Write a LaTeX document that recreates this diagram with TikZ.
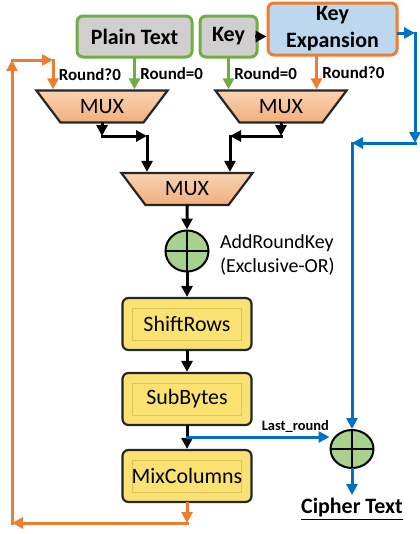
\documentclass[tikz,border=0pt]{standalone}
\usepackage{fontspec}
\setmainfont{Carlito}
\usetikzlibrary{arrows.meta,shapes.geometric,positioning}

\definecolor{keyorange}{HTML}{ED7D31}
\definecolor{keygreen}{HTML}{70AD47}
\definecolor{keyblue}{HTML}{0070C0}
\definecolor{boxgray}{HTML}{D0CECE}
\definecolor{boxblue}{HTML}{BDD7EE}
\definecolor{muxtop}{HTML}{F9D3B2}
\definecolor{muxbot}{HTML}{F2AE7C}
\definecolor{stageyellow}{HTML}{FAE272}
\definecolor{stageline}{HTML}{E0C35A}
\definecolor{xorgreen}{HTML}{A9D18E}

\tikzset{
  inbox/.style={draw=keygreen, line width=3bp, rounded corners=6bp, fill=boxgray,
    inner sep=0pt, font=\fontsize{22}{26}\selectfont\bfseries},
  mux/.style={trapezium, shape border rotate=180, trapezium angle=48,
    trapezium stretches=true, draw=black!85, line width=2.2bp,
    top color=muxtop, bottom color=muxbot, minimum width=132bp, minimum height=32bp,
    inner sep=0pt, font=\fontsize{22}{26}\selectfont},
  stage/.style={draw=black!85, line width=2.2bp, rounded corners=6bp, fill=stageyellow,
    minimum width=129bp, minimum height=52bp, inner sep=0pt,
    font=\fontsize{22}{26}\selectfont,
    path picture={\draw[stageline, line width=0.8bp, sharp corners]
      ([shift={(10bp,10bp)}]path picture bounding box.south west) rectangle
      ([shift={(-10bp,-10bp)}]path picture bounding box.north east);}},
  xorgate/.style={ellipse, draw=black, line width=2bp, fill=xorgreen, inner sep=0pt,
    path picture={\draw[line width=2bp]
      (path picture bounding box.north) -- (path picture bounding box.south)
      (path picture bounding box.west) -- (path picture bounding box.east);}},
  sel/.style={font=\fontsize{17}{20}\selectfont\bfseries, text=black, xshift=1bp},
  flow/.style={->, line width=3bp},
}

\begin{document}
\begin{tikzpicture}[>={Triangle[length=11bp,width=11bp]}, line cap=rect]
\useasboundingbox (0bp,0bp) rectangle (420bp,-534bp);

\node (PT) at (134.5bp,-36.5bp)[inbox, minimum width=115bp, minimum height=41bp] {Plain Text};
\node (Key) at (228.5bp,-36.5bp)[inbox, minimum width=57bp, minimum height=41bp] {Key};
\node (KE) at (332.5bp,-29bp)[inbox, draw=keyorange, fill=boxblue, minimum width=129bp, minimum height=52bp, align=center, font=\fontsize{22}{27}\selectfont\bfseries] {Key\\Expansion};

\node (MUX1) at (102bp,-106.5bp)[mux] {MUX};
\node (MUX2) at (281bp,-106.5bp)[mux] {MUX};
\node (MUX3) at (187bp,-189bp)[mux] {MUX};

\node (XOR1) at (187bp,-251bp)[xorgate, minimum width=43bp, minimum height=41bp] {};
\node (ARK) [right=7bp of XOR1, yshift=-4bp, align=left, font=\fontsize{20}{24}\selectfont] {AddRoundKey\\(Exclusive-OR)};

\node (SR) at (187bp,-324bp)[stage] {ShiftRows};
\node (SB) at (187bp,-399bp)[stage] {SubBytes};
\node (MC) at (187bp,-476bp)[stage] {MixColumns};

\node (XOR2) at (352bp,-449bp)[xorgate, minimum width=43bp, minimum height=38bp] {};
\node (CT) at (352bp,-509bp)[font=\fontsize{22}{26}\selectfont\bfseries] {\underline{Cipher Text}};

\coordinate (fb1) at (187bp,-523bp);
\coordinate (fb2) at (12bp,-523bp);
\coordinate (fb3) at (12bp,-60bp);
\coordinate (fb4) at (53bp,-60bp);
\coordinate (j1) at (147bp,-136bp);
\coordinate (j2) at (230bp,-136bp);
\coordinate (b1) at (415bp,-33bp);
\coordinate (b2) at (415bp,-143bp);
\coordinate (lr) at (187bp,-437bp);

% inputs into the two first multiplexers
\draw [flow, keygreen] (PT.south) -- (PT.south |- MUX1.north) node[sel, midway, right] {Round=0};
\draw [flow, keygreen] (Key.south) -- (Key.south |- MUX2.north) node[sel, midway, right] {Round=0};
\draw [flow, keyorange] ([xshift=-16bp]KE.south) -- ([xshift=-16bp]KE.south |- MUX2.north) node[sel, midway, right] {Round?0};
\draw [flow] (Key.east) -- (Key.east -| KE.west);

% mux outputs
\draw [flow] (MUX1.south) -- (MUX1.south |- j1);
\draw [flow] (MUX1.south |- j1) -- (j1);
\draw [flow] (j1) -- (j1 |- MUX3.north);
\draw [flow] (MUX2.south) -- (MUX2.south |- j2);
\draw [flow] (MUX2.south |- j2) -- (j2);
\draw [flow] (j2) -- (j2 |- MUX3.north);

% round
\draw [flow] (MUX3) -- (XOR1);
\draw [flow] (XOR1) -- (SR);
\draw [flow] (SR) -- (SB);
\draw [flow] (SB) -- (MC);

% feedback to next round
\draw [flow, keyorange] (MC.south) -- (fb1);
\draw [flow, keyorange] (fb1) -- (fb2);
\draw [flow, keyorange] (fb2) -- (fb3);
\draw [flow, keyorange] (fb3) -- (fb4);
\draw [flow, keyorange] (fb4) -- (fb4 |- MUX1.north) node[sel, midway, right] {Round?0};

% last round key
\draw [flow, keyblue] ([yshift=-4bp]KE.east) -- (b1);
\draw [flow, keyblue] (b1) -- (b2);
\draw [flow, keyblue] (b2) -- (XOR2.north |- b2);
\draw [flow, keyblue] (XOR2.north |- b2) -- (XOR2.north);
\draw [flow, keyblue] (lr) -- (lr -| XOR2.west) node[pos=0.76, above, font=\fontsize{14.5}{17}\selectfont\bfseries, text=black] {Last\_round};
\draw [flow, keyblue] (XOR2) -- (CT);
\end{tikzpicture}
\end{document}
